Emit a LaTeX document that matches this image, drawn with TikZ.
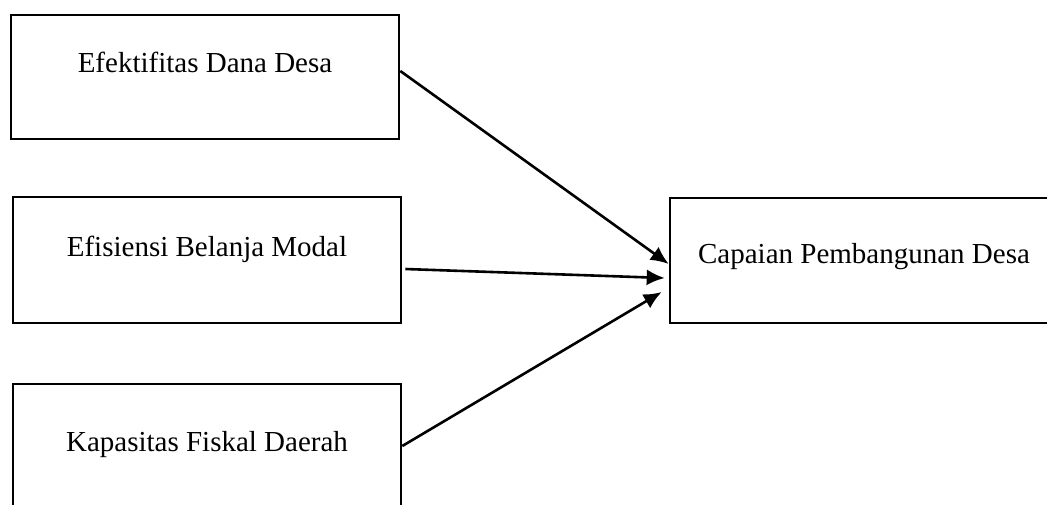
\documentclass[tikz,border=0pt]{standalone}
\usepackage{fontspec}
\setmainfont{Liberation Serif}
\usetikzlibrary{arrows.meta, positioning}
\tikzstyle{arrow} = [line width=1.3pt, -{Latex[length=9pt, width=8pt]}]
\tikzstyle{var} = [rectangle, draw=black, line width=1.3pt, inner sep=0pt, minimum width=194pt, text centered, font=\fontsize{14.5pt}{17pt}\selectfont]

\begin{document}
\begin{tikzpicture}[x=0.5pt, y=-0.5pt]

  \clip (0,0) rectangle (1047,504);
  \fill[white] (0,0) rectangle (1047,504);

  % Nodes
  \node (dana) [var, minimum height=62pt, text height=28.5pt, text depth=33.5pt] at (205,77) {Efektifitas Dana Desa};
  \node (modal) [var, minimum height=63pt, text height=29.5pt, text depth=33.5pt] at (207,260) {Efisiensi Belanja Modal};
  \node (fiskal) [var, minimum height=63pt, text height=33.5pt, text depth=29.5pt] at (207,447) {Kapasitas Fiskal Daerah};
  \node (capaian) [var, minimum height=62.5pt, text height=32.5pt, text depth=30pt] at (864,260.5) {Capaian Pembangunan Desa};

  % Arrows
  \draw[arrow] ([yshift=3pt]dana.east) -- ([yshift=-1.75pt]capaian.west);
  \draw[arrow] ([xshift=1.5pt, yshift=-4.5pt]modal.east) -- ([xshift=-2pt, yshift=-8.75pt]capaian.west);
  \draw[arrow] ([yshift=0.5pt]fiskal.east) -- ([xshift=-3.5pt, yshift=-15.75pt]capaian.west);

\end{tikzpicture}
\end{document}
